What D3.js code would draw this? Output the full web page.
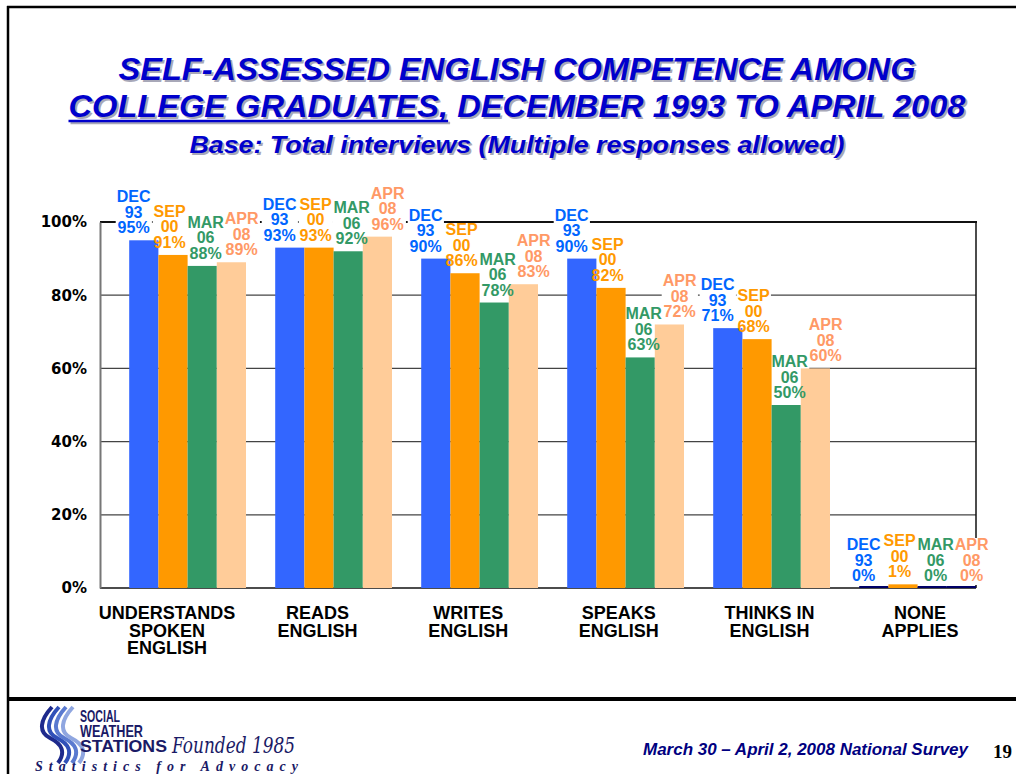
<!DOCTYPE html>
<html>
<head>
<meta charset="utf-8">
<script src="https://cdn.jsdelivr.net/npm/d3@7"></script>
<style>
  body { margin: 0; background: #fff; }
  svg { display: block; }
</style>
</head>
<body>
<svg width="1016" height="774"></svg>
<script>
// categories (one entry per line of the axis label)
const categories = ["UNDERSTANDS SPOKEN ENGLISH", "READS ENGLISH", "WRITES ENGLISH",
    "SPEAKS ENGLISH", "THINKS IN ENGLISH", "NONE APPLIES"];
const categoryLines = [["UNDERSTANDS", "SPOKEN", "ENGLISH"], ["READS", "ENGLISH"], ["WRITES", "ENGLISH"],
    ["SPEAKS", "ENGLISH"], ["THINKS IN", "ENGLISH"], ["NONE", "APPLIES"]];

// survey rounds
const surveys = ["DEC 93", "SEP 00", "MAR 06", "APR 08"];

// values in percent, per survey round
const dec93 = [95, 93, 90, 90, 71, 0];
const sep00 = [91, 93, 86, 82, 68, 1];
const mar06 = [88, 92, 78, 63, 50, 0];
const apr08 = [89, 96, 83, 72, 60, 0];

const yTicks = [0, 20, 40, 60, 80, 100];

const barColors = ["#3366FF", "#FF9900", "#339966", "#FFCC99"];
const labelColors = ["#0066FF", "#FF9900", "#339966", "#FF9966"];

var seriesValues = [dec93, sep00, mar06, apr08];

var svg = d3.select("svg");

//slide frame
svg.append("line").attr("x1", 8).attr("x2", 8).attr("y1", 6).attr("y2", 774)
    .attr("stroke", "#000").attr("stroke-width", 2.5);
svg.append("line").attr("x1", 7).attr("x2", 1016).attr("y1", 7).attr("y2", 7)
    .attr("stroke", "#000").attr("stroke-width", 2.5);
svg.append("line").attr("x1", 8).attr("x2", 1016).attr("y1", 699).attr("y2", 699)
    .attr("stroke", "#000").attr("stroke-width", 4);

//title with drop shadow
var titleLines = [
    { text: "SELF-ASSESSED ENGLISH COMPETENCE AMONG", y: 80, size: 31, len: 797 },
    { text: "COLLEGE GRADUATES, DECEMBER 1993 TO APRIL 2008", y: 117, size: 31, len: 897 },
    { text: "Base: Total interviews (Multiple responses allowed)", y: 153, size: 24, len: 655 }
];
var titleG = svg.append("g").attr("font-family", "'Liberation Sans', Arial, sans-serif")
    .attr("font-weight", "bold").attr("font-style", "italic").attr("text-anchor", "middle");

titleLines.forEach(t => {
    [["#A8A8B8", 2], ["#0000CC", 0]].forEach(s => {
        titleG.append("text")
            .attr("x", 517 + s[1]).attr("y", t.y + s[1])
            .attr("font-size", t.size)
            .attr("textLength", t.len).attr("lengthAdjust", "spacingAndGlyphs")
            .attr("fill", s[0])
            .text(t.text);
    });
});

//underline for "COLLEGE GRADUATES,"
var line2 = titleG.selectAll("text").filter((d, i) => i == 3).node();
var first = line2.getExtentOfChar(0);
var comma = line2.getExtentOfChar("COLLEGE GRADUATES,".length - 1);
[["#A8A8B8", 2], ["#0000CC", 0]].forEach(s => {
    titleG.append("line")
        .attr("x1", first.x + s[1]).attr("x2", comma.x + comma.width + s[1])
        .attr("y1", 121 + s[1]).attr("y2", 121 + s[1])
        .attr("stroke", s[0]).attr("stroke-width", 2.5);
});

//scales
var y = d3.scaleLinear().domain([0, 100]).range([588, 222]);

var x = d3.scaleBand().domain(categories).range([100, 976])
    .paddingInner(0.2).paddingOuter(0.1).align(1);

var xs = d3.scaleBand().domain(surveys).range([0, x.bandwidth()]);

//data labels are spread a bit wider than the bars
var labelOffset = d3.scalePoint().domain(surveys).range([-54, 54]);

//axis labels sit on their own spacing
var xLabel = d3.scalePoint().domain(categories).range([167, 920]);

//gridlines
var grid = svg.append("g");
grid.selectAll("line")
    .data(yTicks.filter(d => d > 0 && d < 100))
    .enter().append("line")
    .attr("x1", 100).attr("x2", 976)
    .attr("y1", d => y(d)).attr("y2", d => y(d))
    .attr("stroke", "#444").attr("stroke-width", 1.3);

//plot box top + right
svg.append("line").attr("x1", 100).attr("x2", 977).attr("y1", y(100)).attr("y2", y(100))
    .attr("stroke", "#111").attr("stroke-width", 2);
svg.append("line").attr("x1", 976).attr("x2", 976).attr("y1", y(100)).attr("y2", y(0))
    .attr("stroke", "#111").attr("stroke-width", 1.5);

//layers: label boxes hide gridlines, bars above them, label text on top
var boxLayer = svg.append("g");
var barLayer = svg.append("g");
var textLayer = svg.append("g")
    .attr("font-family", "'Liberation Sans', Arial, sans-serif")
    .attr("font-weight", "bold").attr("font-size", 16)
    .attr("text-anchor", "middle");

//y axis
var yAxis = svg.append("g").attr("transform", "translate(100,0)")
    .call(d3.axisLeft(y).tickValues(yTicks).tickSize(0).tickPadding(13).tickFormat(d => d + "%"));
yAxis.select(".domain").attr("stroke", "#777").attr("stroke-width", 2);
yAxis.selectAll("text")
    .attr("font-family", "'DejaVu Sans', Verdana, sans-serif")
    .attr("font-weight", "bold").attr("font-size", 15).attr("fill", "#000");

//bars
var groups = barLayer.selectAll("g")
    .data(categories)
    .enter().append("g")
    .attr("transform", d => "translate(" + x(d) + ",0)");

groups.selectAll("rect")
    .data((d, i) => surveys.map((s, j) => ({ survey: s, j: j, value: seriesValues[j][i] })))
    .enter().append("rect")
    .attr("x", d => xs(d.survey))
    .attr("width", xs.bandwidth())
    .attr("y", d => d.value > 0 ? y(d.value) : y(0) - 2)
    .attr("height", d => d.value > 0 ? y(0) - y(d.value) : 2)
    .attr("fill", d => d.value > 0 ? barColors[d.j] : "#000066");

//x axis baseline
svg.append("line").attr("x1", 100).attr("x2", 976).attr("y1", y(0)).attr("y2", y(0))
    .attr("stroke", "#111").attr("stroke-width", 1.5)
    .lower();

//data labels: three lines each, white box behind
categories.forEach((c, i) => {
    surveys.forEach((s, j) => {
        var v = seriesValues[j][i];
        var cx = x(c) + x.bandwidth() / 2 + labelOffset(s);
        var base = y(v) - 7;
        var lines = s.split(" ").concat([v + "%"]);
        var t = textLayer.append("text").attr("fill", labelColors[j]);
        lines.forEach((l, k) => {
            t.append("tspan").attr("x", cx).attr("y", base - (2 - k) * 15.5).text(l);
        });
        var bb = t.node().getBBox();
        boxLayer.append("rect").attr("fill", "#fff")
            .attr("x", bb.x - 1).attr("y", bb.y + 2)
            .attr("width", bb.width + 2).attr("height", bb.height - 1);
    });
});

//category labels
var catG = svg.append("g")
    .attr("font-family", "'Liberation Sans', Arial, sans-serif")
    .attr("font-weight", "bold").attr("font-size", 18)
    .attr("text-anchor", "middle").attr("fill", "#000");
categories.forEach((c, i) => {
    var t = catG.append("text");
    categoryLines[i].forEach((l, k) => {
        t.append("tspan").attr("x", xLabel(c)).attr("y", 619 + k * 17.5).text(l);
    });
});

//footer
svg.append("text")
    .attr("x", 968).attr("y", 755).attr("text-anchor", "end")
    .attr("font-family", "'Liberation Sans', Arial, sans-serif")
    .attr("font-weight", "bold").attr("font-style", "italic").attr("font-size", 16)
    .attr("textLength", 325).attr("lengthAdjust", "spacingAndGlyphs")
    .attr("fill", "#000080")
    .text("March 30 \u2013 April 2, 2008 National Survey");

svg.append("text")
    .attr("x", 1012).attr("y", 758).attr("text-anchor", "end")
    .attr("font-family", "'Liberation Serif', 'Times New Roman', serif")
    .attr("font-weight", "bold").attr("font-size", 19)
    .attr("fill", "#000")
    .text("19");

//logo
var logo = svg.append("g");
var swoosh = [
    "M52,707 C40,720 38,732 50,738 C62,744 66,752 58,763",
    "M59,707 C47,720 45,732 57,738 C69,744 73,752 65,763",
    "M66,707 C54,720 52,732 64,738 C76,744 80,752 72,763",
    "M73,707 C61,720 59,732 71,738 C83,744 87,752 79,763"
];
logo.selectAll("path").data(swoosh).enter().append("path")
    .attr("d", d => d)
    .attr("fill", "none")
    .attr("stroke", (d, i) => ["#1E2A8C", "#3050B8", "#5A7AD0", "#8FA6E0"][i])
    .attr("stroke-width", 4);

var logoText = logo.append("text")
    .attr("font-family", "'Liberation Sans', Arial, sans-serif")
    .attr("font-weight", "bold").attr("font-size", 16.5).attr("fill", "#1A1A66");
[["SOCIAL", 722, 40], ["WEATHER", 737, 63], ["STATIONS", 752, 87]].forEach(l => {
    logoText.append("tspan").attr("x", 80).attr("y", l[1])
        .attr("textLength", l[2]).attr("lengthAdjust", "spacingAndGlyphs").text(l[0]);
});

logo.append("text")
    .attr("x", 172).attr("y", 753)
    .attr("font-family", "'DejaVu Serif', serif").attr("font-style", "italic")
    .attr("font-size", 22).attr("fill", "#1A1A66")
    .attr("textLength", 123).attr("lengthAdjust", "spacingAndGlyphs")
    .text("Founded 1985");

logo.append("text")
    .attr("x", 35).attr("y", 771)
    .attr("font-family", "'Liberation Serif', serif").attr("font-style", "italic").attr("font-weight", "bold")
    .attr("font-size", 14).attr("fill", "#1A1A66")
    .attr("textLength", 263).attr("lengthAdjust", "spacing")
    .text("Statistics for Advocacy");
</script>
</body>
</html>
